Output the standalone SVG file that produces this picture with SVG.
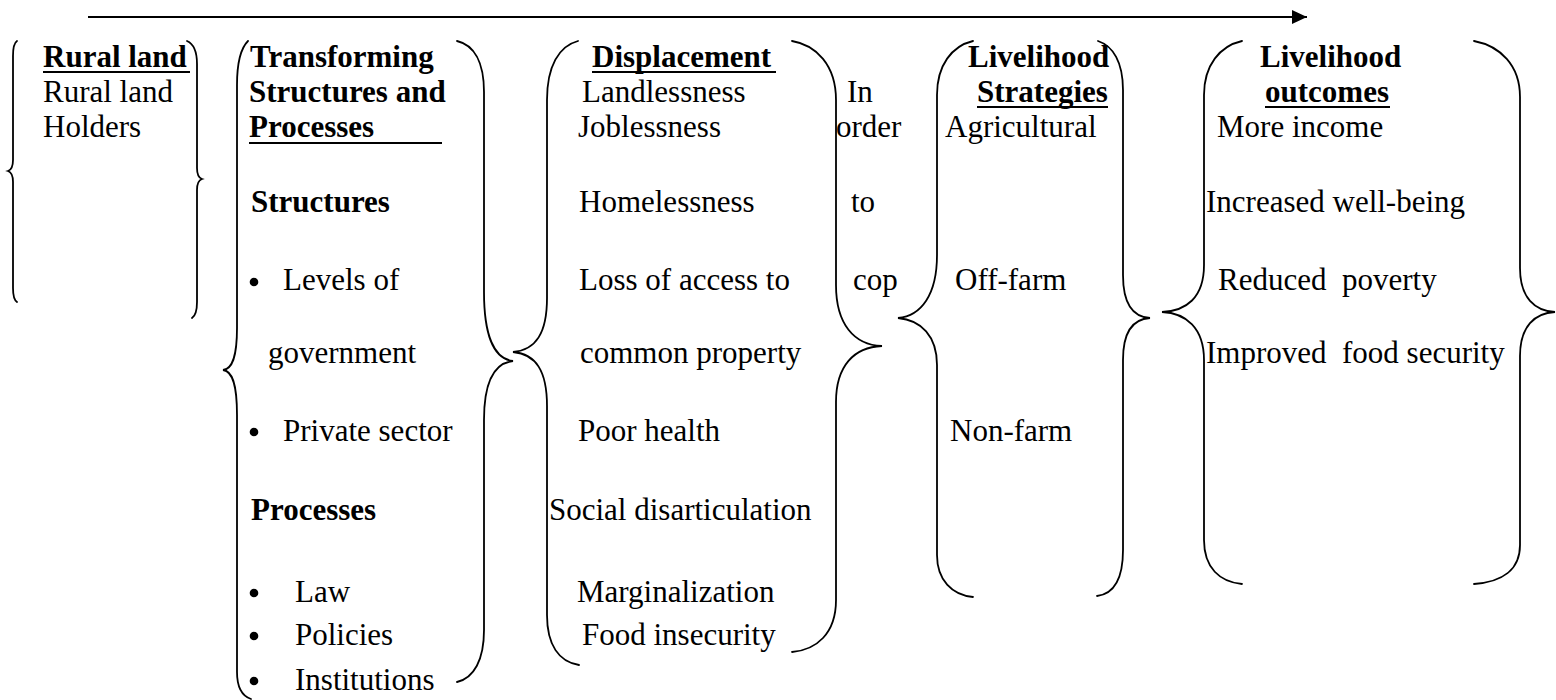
<svg xmlns="http://www.w3.org/2000/svg" width="1556" height="700" viewBox="0 0 1556 700">
  <style>
    text { font-family: "Liberation Serif", "Times New Roman", serif; font-size: 31px; fill: #000; white-space: pre; }
    .b { font-weight: bold; }
    .brace { fill: none; stroke: #000; stroke-width: 1.8; stroke-linecap: round; }
    .ul { stroke: #000; stroke-width: 2.2; }
    .dot { fill: #000; }
  </style>
  <defs>
    <marker id="arrowHead" markerWidth="16" markerHeight="14" refX="15" refY="7" orient="auto" markerUnits="userSpaceOnUse">
      <path d="M0,0 L15,7 L0,14 Z" fill="#000"/>
    </marker>
  </defs>

  <rect width="1556" height="700" fill="#fff"/>

  <!-- flow direction arrow across the top -->
  <g id="connectors">
    <line x1="88" y1="17" x2="1307" y2="17" stroke="#000" stroke-width="2.2" marker-end="url(#arrowHead)"/>
  </g>

  <!-- Rural land -->
  <g id="rural-land">
    <path class="brace" d="M17,41 C14,43 13,48 13,56 L13,160 C13,167 11,170 8,171 C11,172 13,175 13,182 L13,288 C13,296 14,300 17,302"/>
    <path class="brace" d="M187,41 C194,44 197,52 197,64 L197,168 C197,175 199,178 202,179 C199,180 197,183 197,190 L197,302 C197,311 195,316 192,318"/>
    <text class="b" x="43" y="67">Rural land</text>
    <line class="ul" x1="43" y1="72" x2="190" y2="72"/>
    <text x="43" y="102">Rural land</text>
    <text x="43" y="137">Holders</text>
  </g>

  <!-- Transforming structures and processes -->
  <g id="transforming">
    <path class="brace" d="M248,41 C241,48 237,62 237,85 L237,328 C237,358 232,369 223,370 C232,371 237,383 237,415 L237,672 C237,688 242,696 251,699"/>
    <path class="brace" d="M457,41 C474,45 484,62 484,92 L484,292 C484,335 494,359 513,361 C494,363 484,382 484,420 L484,630 C484,660 474,678 457,682"/>
    <text class="b" x="250" y="67">Transforming</text>
    <text class="b" x="249" y="102">Structures and</text>
    <text class="b" x="249" y="137">Processes</text>
    <line class="ul" x1="249" y1="143" x2="442" y2="143"/>
    <text class="b" x="251" y="212">Structures</text>
    <circle class="dot" cx="254" cy="282" r="4.3"/>
    <text x="283" y="290">Levels of</text>
    <text x="268" y="363">government</text>
    <circle class="dot" cx="254" cy="432" r="4.3"/>
    <text x="283" y="441">Private sector</text>
    <text class="b" x="251" y="520">Processes</text>
    <circle class="dot" cx="254" cy="593" r="4.3"/>
    <text x="295" y="602">Law</text>
    <circle class="dot" cx="254" cy="636" r="4.3"/>
    <text x="295" y="645">Policies</text>
    <circle class="dot" cx="254" cy="681" r="4.3"/>
    <text x="295" y="690">Institutions</text>
  </g>

  <!-- Displacement -->
  <g id="displacement">
    <path class="brace" d="M578,41 C559,46 547,66 547,100 L547,298 C547,333 536,350 513,352 C536,354 547,371 547,406 L547,615 C547,645 559,662 579,665"/>
    <path class="brace" d="M792,41 C816,45 836,65 836,100 L836,285 C836,324 854,345 882,346 C854,347 836,366 836,402 L836,600 C836,634 816,650 792,652"/>
    <text class="b" x="592" y="67">Displacement</text>
    <line class="ul" x1="592" y1="72" x2="776" y2="72"/>
    <text x="582" y="102">Landlessness</text>
    <text x="578" y="137">Joblessness</text>
    <text x="579" y="212">Homelessness</text>
    <text x="579" y="290">Loss of access to</text>
    <text x="580" y="363">common property</text>
    <text x="578" y="441">Poor health</text>
    <text x="549" y="520">Social disarticulation</text>
    <text x="577" y="602">Marginalization</text>
    <text x="582" y="645">Food insecurity</text>
  </g>

  <!-- linking words between displacement and strategies -->
  <g id="in-order-to-cope">
    <text x="847" y="102">In</text>
    <text x="836" y="137">order</text>
    <text x="851" y="212">to</text>
    <text x="853" y="290">cop</text>
  </g>

  <!-- Livelihood strategies -->
  <g id="livelihood-strategies">
    <path class="brace" d="M973,41 C952,46 937,65 937,95 L937,255 C937,295 921,316 898,318 C921,320 937,336 937,365 L937,555 C937,580 952,595 973,597"/>
    <path class="brace" d="M1098,41 C1113,46 1123,62 1123,90 L1123,275 C1123,305 1133,317 1150,318 C1133,319 1123,331 1123,360 L1123,550 C1123,580 1113,594 1097,596"/>
    <text class="b" x="968" y="67">Livelihood</text>
    <text class="b" x="977" y="102">Strategies</text>
    <line class="ul" x1="977" y1="107" x2="1108" y2="107"/>
    <text x="945" y="137">Agricultural</text>
    <text x="955" y="290">Off-farm</text>
    <text x="950" y="441">Non-farm</text>
  </g>

  <!-- Livelihood outcomes -->
  <g id="livelihood-outcomes">
    <path class="brace" d="M1242,41 C1220,46 1204,65 1204,95 L1204,265 C1204,298 1186,311 1162,312 C1186,313 1204,328 1204,360 L1204,540 C1204,568 1220,582 1242,584"/>
    <path class="brace" d="M1474,41 C1500,46 1520,65 1520,97 L1520,268 C1520,298 1535,311 1555,312 C1535,313 1520,326 1520,356 L1520,545 C1520,570 1502,582 1474,584"/>
    <text class="b" x="1260" y="67">Livelihood</text>
    <text class="b" x="1265" y="102">outcomes</text>
    <line class="ul" x1="1265" y1="107" x2="1390" y2="107"/>
    <text x="1217" y="137">More income</text>
    <text x="1206" y="212">Increased well-being</text>
    <text x="1218" y="290">Reduced  poverty</text>
    <text x="1206" y="363">Improved  food security</text>
  </g>
</svg>
